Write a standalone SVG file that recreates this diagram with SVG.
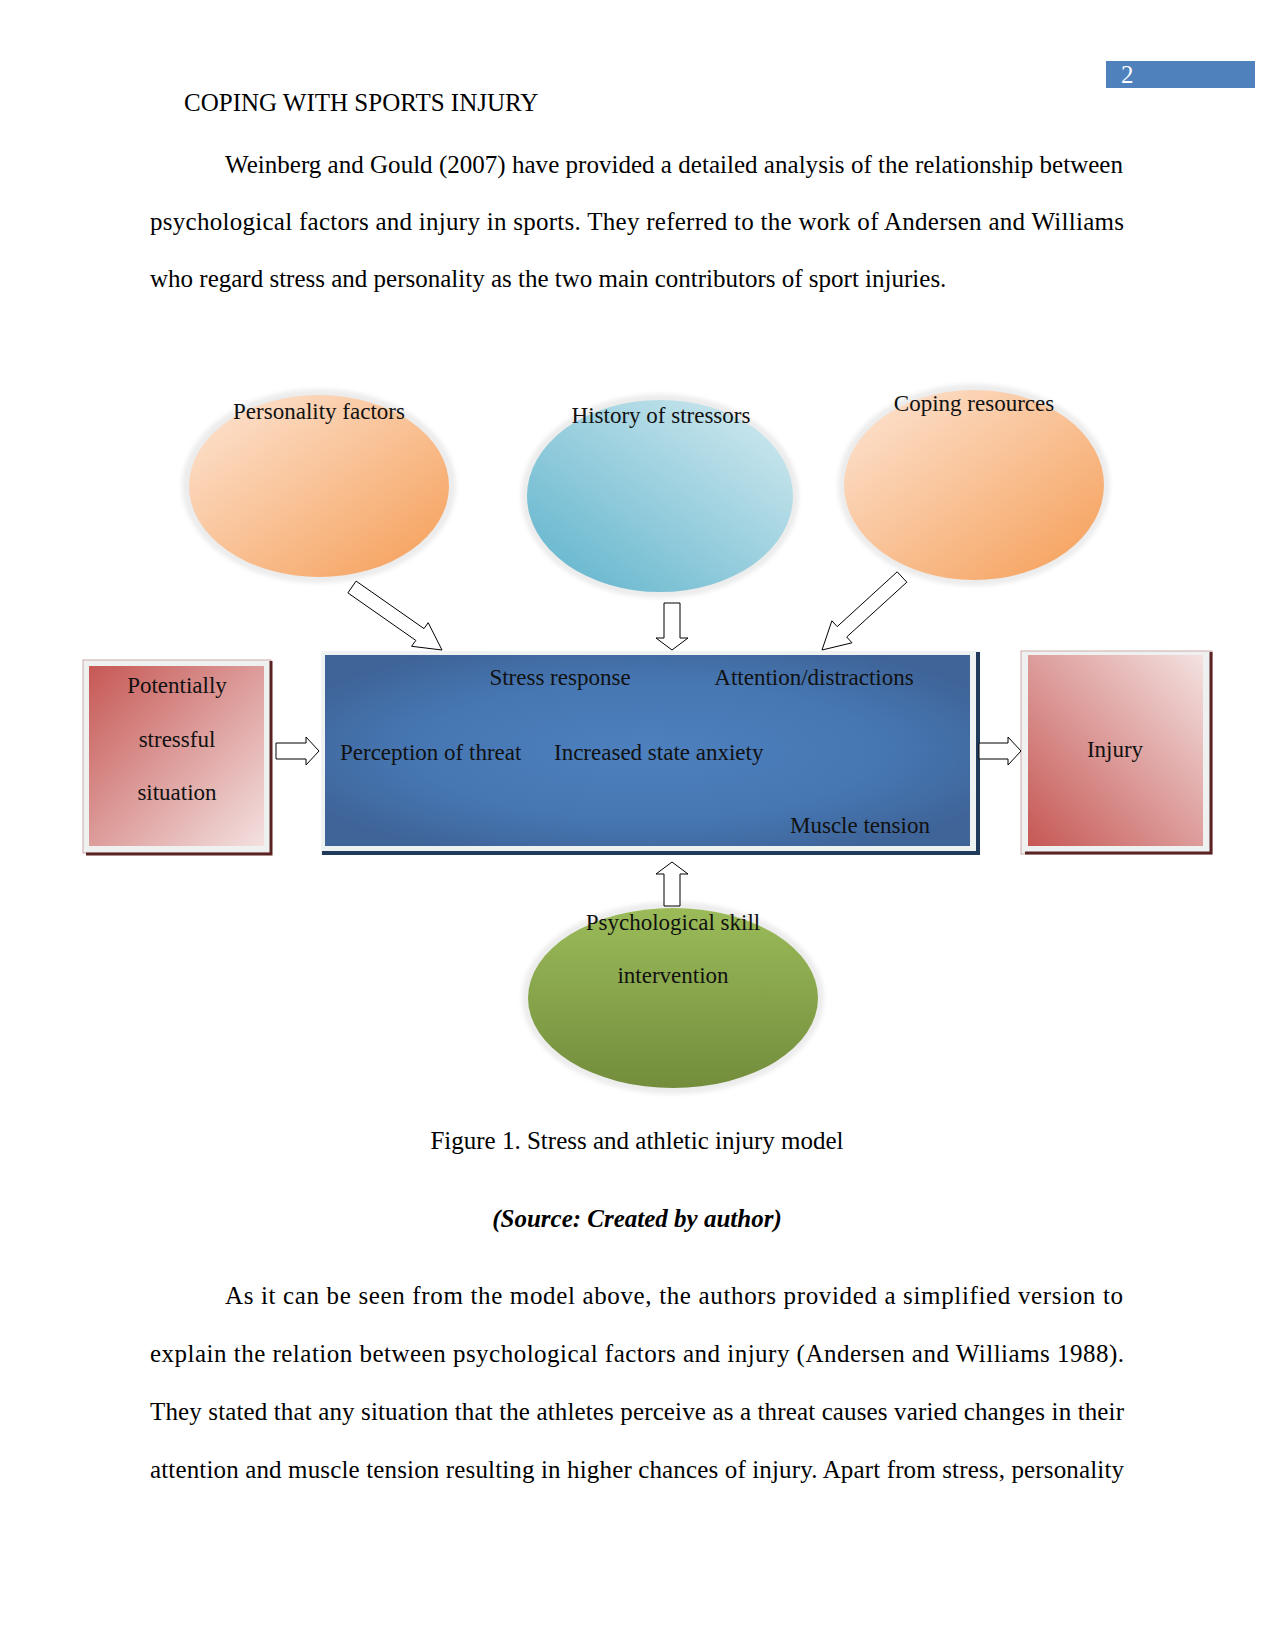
<svg xmlns="http://www.w3.org/2000/svg" width="1275" height="1650" viewBox="0 0 1275 1650">
<defs>
  <linearGradient id="gOrange" x1="0" y1="0" x2="1" y2="1">
    <stop offset="0" stop-color="#fde6d6"/>
    <stop offset="1" stop-color="#f59d55"/>
  </linearGradient>
  <linearGradient id="gBlueEll" x1="0" y1="1" x2="1" y2="0">
    <stop offset="0" stop-color="#5cb2cb"/>
    <stop offset="1" stop-color="#d6ecf1"/>
  </linearGradient>
  <linearGradient id="gGreen" x1="0" y1="0" x2="0" y2="1">
    <stop offset="0" stop-color="#9bbb59"/>
    <stop offset="1" stop-color="#738d3c"/>
  </linearGradient>
  <linearGradient id="gRedL" x1="0" y1="0" x2="1" y2="1">
    <stop offset="0" stop-color="#c65855"/>
    <stop offset="1" stop-color="#f3e1e0"/>
  </linearGradient>
  <linearGradient id="gRedR" x1="0" y1="1" x2="1" y2="0">
    <stop offset="0" stop-color="#c65855"/>
    <stop offset="1" stop-color="#f3e1e0"/>
  </linearGradient>
  <radialGradient id="gBox" cx="0.5" cy="0.5" r="0.6">
    <stop offset="0" stop-color="#4d80be"/>
    <stop offset="0.6" stop-color="#4677b3"/>
    <stop offset="1" stop-color="#3f6498"/>
  </radialGradient>
  <filter id="soft" x="-10%" y="-10%" width="120%" height="120%">
    <feGaussianBlur stdDeviation="2"/>
  </filter>
  <style>
    .body { font-family: "Liberation Serif", "Times New Roman", serif; font-size: 25px; fill: #000; }
    .lbl { font-family: "Liberation Serif", "Times New Roman", serif; font-size: 23px; fill: #111; }
    .mid { text-anchor: middle; }
    .arrow { fill: #fff; stroke: #000; stroke-width: 1; stroke-linejoin: miter; }
    .glow { fill: #ececec; filter: url(#soft); }
  </style>
</defs>
<rect width="1275" height="1650" fill="#fff"/>

<!-- page header -->
<rect x="1106" y="61" width="149" height="27" fill="#4f81bd"/>
<text class="body" x="1121" y="83" fill="#fff" style="fill:#fff">2</text>
<text class="body" x="184" y="111">COPING WITH SPORTS INJURY</text>

<text class="body" x="225" y="173" textLength="898" lengthAdjust="spacing">Weinberg and Gould (2007) have provided a detailed analysis of the relationship between</text>
<text class="body" x="150" y="230" textLength="974" lengthAdjust="spacing">psychological factors and injury in sports. They referred to the work of Andersen and Williams</text>
<text class="body" x="150" y="287">who regard stress and personality as the two main contributors of sport injuries.</text>

<!-- nodes -->
<g id="personality">
  <ellipse class="glow" cx="319" cy="486" rx="137" ry="97"/>
  <ellipse cx="319" cy="486" rx="130" ry="91" fill="url(#gOrange)"/>
  <text class="lbl mid" x="319" y="419">Personality factors</text>
</g>
<g id="history">
  <ellipse class="glow" cx="660" cy="496" rx="139" ry="102"/>
  <ellipse cx="660" cy="496" rx="133" ry="96" fill="url(#gBlueEll)"/>
  <text class="lbl mid" x="661" y="423">History of stressors</text>
</g>
<g id="coping">
  <ellipse class="glow" cx="974" cy="485" rx="136" ry="101"/>
  <ellipse cx="974" cy="485" rx="130" ry="95" fill="url(#gOrange)"/>
  <text class="lbl mid" x="974" y="411">Coping resources</text>
</g>
<g id="situation">
  <rect x="83" y="660" width="188" height="193" fill="#eef1ef" stroke="#caa" stroke-width="1"/>
  <path d="M271,661 V854 H86" fill="none" stroke="#5a2222" stroke-width="3"/>
  <rect x="89" y="666" width="175" height="180" fill="url(#gRedL)"/>
  <text class="lbl mid" x="177" y="693">Potentially</text>
  <text class="lbl mid" x="177" y="747">stressful</text>
  <text class="lbl mid" x="177" y="800">situation</text>
</g>
<g id="stress">
  <rect x="321" y="651" width="658" height="203" fill="#eef3f2"/>
  <path d="M978,652 V853 H322" fill="none" stroke="#203a5c" stroke-width="4"/>
  <rect x="325" y="655" width="645" height="191" fill="url(#gBox)"/>
  <text class="lbl mid" x="560" y="685">Stress response</text>
  <text class="lbl mid" x="814" y="685">Attention/distractions</text>
  <text class="lbl" x="340" y="760">Perception of threat</text>
  <text class="lbl" x="554" y="760">Increased state anxiety</text>
  <text class="lbl" x="790" y="833">Muscle tension</text>
</g>
<g id="injury">
  <rect x="1021" y="651" width="191" height="203" fill="#eef1ef" stroke="#caa" stroke-width="1"/>
  <path d="M1211,652 V853 H1025" fill="none" stroke="#5a2222" stroke-width="3"/>
  <rect x="1028" y="655" width="175" height="191" fill="url(#gRedR)"/>
  <text class="lbl mid" x="1115" y="757">Injury</text>
</g>
<g id="intervention">
  <ellipse class="glow" cx="673" cy="998" rx="151" ry="96"/>
  <ellipse cx="673" cy="998" rx="145" ry="90" fill="url(#gGreen)"/>
  <text class="lbl mid" x="673" y="930">Psychological skill</text>
  <text class="lbl mid" x="673" y="983">intervention</text>
</g>

<!-- connectors -->
<g id="connectors">
  <path class="arrow" d="M356.1,581.1 L424.0,628.6 L428.2,622.7 L442,650 L411.6,646.3 L415.8,640.4 L347.9,592.9 Z"/>
  <path class="arrow" d="M664,603 H680 V638 H688 L672,650 L656,638 H664 Z"/>
  <path class="arrow" d="M897.2,571.8 L837.2,626.6 L831.9,620.8 L822,650 L852.0,642.8 L846.7,637.0 L906.8,582.2 Z"/>
  <path class="arrow" d="M276,743 H306 V737 L319,751 L306,765 V759 H276 Z"/>
  <path class="arrow" d="M979,743 H1008 V737 L1021,751 L1008,765 V759 H979 Z"/>
  <path class="arrow" d="M664,906 V874 H656 L672,862 L688,874 H680 V906 Z"/>
</g>

<text class="body mid" x="637" y="1149">Figure 1. Stress and athletic injury model</text>
<text class="body mid" x="637" y="1227" font-weight="bold" font-style="italic">(Source: Created by author)</text>

<text class="body" x="225" y="1304" textLength="898" lengthAdjust="spacing">As it can be seen from the model above, the authors provided a simplified version to</text>
<text class="body" x="150" y="1362" textLength="974" lengthAdjust="spacing">explain the relation between psychological factors and injury (Andersen and Williams 1988).</text>
<text class="body" x="150" y="1420" textLength="974" lengthAdjust="spacing">They stated that any situation that the athletes perceive as a threat causes varied changes in their</text>
<text class="body" x="150" y="1478" textLength="974" lengthAdjust="spacing">attention and muscle tension resulting in higher chances of injury. Apart from stress, personality</text>
</svg>
